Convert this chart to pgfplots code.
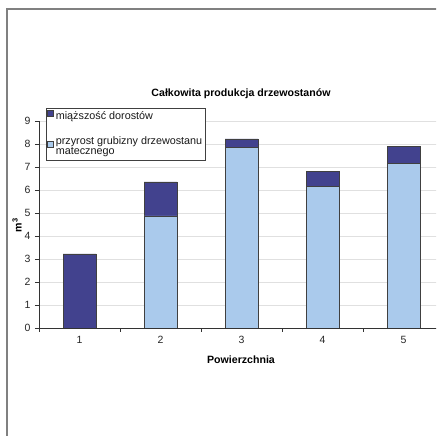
\documentclass[border=0pt]{standalone}
\usepackage{fontspec}
\setmainfont{Liberation Sans}
\usepackage{pgfplots}
\pgfplotsset{compat=1.18}
\definecolor{dorost}{RGB}{66,66,142}
\definecolor{przyrost}{RGB}{170,202,236}
\definecolor{framegray}{RGB}{128,128,128}
\definecolor{gridgray}{RGB}{224,224,224}

\begin{document}
\begin{tikzpicture}[x=1pt,y=1pt,font=\fontsize{10.5}{12}\selectfont]
\clip (0,0) rectangle (436,436);
% outer chart frame
\draw[framegray, line width=1.3pt] (7,-20) -- (7,427) -- (460,427);
\begin{axis}[
  at={(39pt,108pt)}, anchor=south west,
  scale only axis, width=405pt, height=207pt,
  xmin=0.5, xmax=5.5, ymin=0, ymax=9,
  ybar stacked, bar width=33pt,
  axis lines*=left,
  axis line style={-, draw=black!80, line width=0.8pt},
  ytick={0,...,9},
  ymajorgrids, grid style={gridgray, line width=0.8pt},
  xtick={0.5,1.5,...,5.5},
  x tick label as interval,
  xticklabels={1,2,3,4,5},
  tick align=outside, major tick length=4pt,
  tick style={draw=black!80, line width=0.8pt},
  /pgf/number format/assume math mode=true,
  ticklabel style={font=\fontsize{10.5}{12}\selectfont, text=black!85},
  yticklabel style={xshift=-1pt},
  xticklabel style={yshift=-1pt},
  reverse legend,
  legend style={at={(0.0173,1.0628)}, anchor=north west,
    draw=black!75, line width=0.6pt, fill=white,
    font=\fontsize{10.8}{11.5}\selectfont, text=black!90,
    inner xsep=1pt, inner ysep=1pt, row sep=11pt,
    nodes={text depth=}},
  legend cell align=left,
  legend image code/.code={\draw[#1, line width=0.5pt] (0.5pt,0pt) rectangle (6.5pt,6pt);},
]
\addplot[fill=przyrost, draw=black!75, line width=0.8pt]
  coordinates {(1,0) (2,4.87) (3,7.86) (4,6.14) (5,7.16)};
\addlegendentry{\def\arraystretch{0.88}\begin{tabular}[t]{@{}l@{}}przyrost grubizny drzewostanu\\matecznego\end{tabular}}
\addplot[fill=dorost, draw=black!75, line width=0.8pt]
  coordinates {(1,3.22) (2,1.48) (3,0.36) (4,0.67) (5,0.72)};
\addlegendentry{miąższość dorostów}
\end{axis}
\node[anchor=base, font=\bfseries\fontsize{10.6}{12}\selectfont] at (241,339) {Całkowita produkcja drzewostanów};
\node[anchor=base, font=\bfseries\fontsize{10.6}{12}\selectfont] at (241,72) {Powierzchnia};
\node[rotate=90, font=\bfseries\fontsize{10.6}{12}\selectfont] at (17,211) {m\textsuperscript{3}};
\end{tikzpicture}
\end{document}
